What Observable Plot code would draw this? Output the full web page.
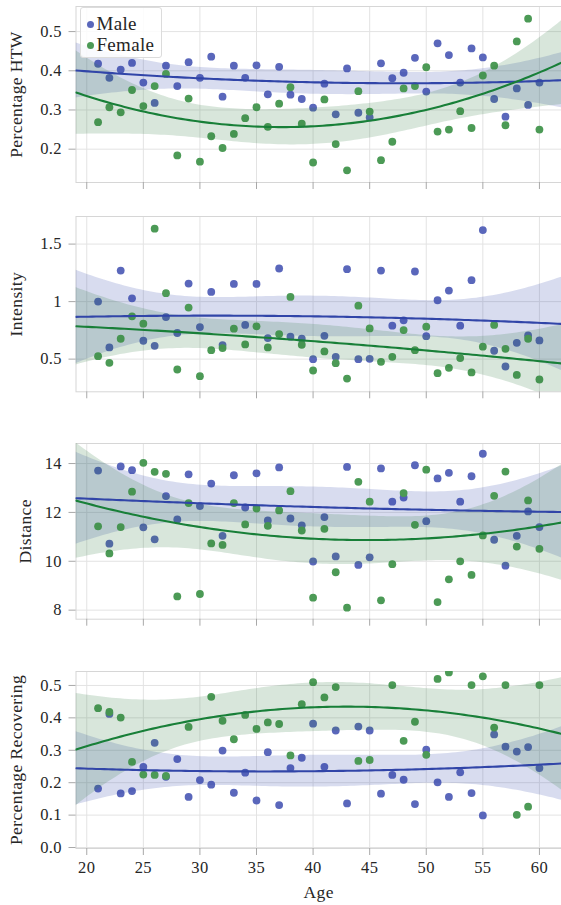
<!DOCTYPE html>
<html>
<head>
<meta charset="utf-8">
<script src="https://cdn.jsdelivr.net/npm/d3@7"></script>
<script src="https://cdn.jsdelivr.net/npm/@observablehq/plot@0.6"></script>
<style>
  html, body { margin: 0; padding: 0; background: #fff; }
  #wrap { position: relative; width: 561px; height: 905px; overflow: hidden; font-family: "Liberation Serif", serif; }
  #wrap svg { position: absolute; left: 0; overflow: visible; }
  .legend { position: absolute; left: 80px; top: 7px; width: 82px; height: 51px; border: 1px solid #dcdcdc; border-radius: 3px; background: rgba(255,255,255,0.85); box-sizing: border-box; font-family: "Liberation Serif", serif; font-size: 19px; letter-spacing: 0.3px; color: #262626; }
  .legend .item { position: absolute; left: 5.5px; height: 22px; line-height: 22px; white-space: nowrap; }
  .legend .sw { display: inline-block; width: 7px; height: 7px; border-radius: 50%; margin-right: 3px; vertical-align: 2px; }
</style>
</head>
<body>
<div id="wrap"></div>
<script>
// ---------------- data ----------------
const ages = [21,22,23,24,25,26,27,28,29,30,31,32,33,34,35,36,37,38,39,40,41,42,43,44,45,46,47,48,49,50,51,52,53,54,55,56,57,58,59,60];

const htwMale   = [0.418,0.382,0.403,0.420,0.370,0.318,0.413,0.361,0.422,0.382,0.436,0.334,0.413,0.382,0.414,0.340,0.410,0.339,0.328,0.306,0.367,0.289,0.406,0.293,0.281,0.419,0.381,0.395,0.433,0.347,0.470,0.440,0.370,0.457,0.434,0.328,0.283,0.355,0.313,0.370];
const htwFemale = [0.269,0.307,0.294,0.351,0.310,0.361,0.392,0.184,0.329,0.168,0.233,0.203,0.239,0.279,0.307,0.257,0.316,0.358,0.265,0.166,0.327,0.213,0.146,0.348,0.296,0.172,0.219,0.355,0.361,0.409,0.245,0.250,0.297,0.254,0.388,0.413,0.261,0.475,0.533,0.250];

const intMale   = [1.000,0.602,1.270,1.029,0.660,0.616,0.866,0.727,1.157,0.779,1.084,0.622,1.154,0.797,1.154,0.683,1.288,0.695,0.677,0.500,0.703,0.520,1.282,0.500,0.503,1.270,0.791,0.837,1.262,0.700,1.012,1.096,0.791,1.186,1.622,0.573,0.436,0.642,0.706,0.663];
const intFemale = [0.526,0.468,0.677,0.872,0.808,1.634,1.073,0.410,0.948,0.352,0.578,0.596,0.765,0.628,0.785,0.602,0.718,1.041,0.625,0.401,0.567,0.465,0.331,0.965,0.767,0.477,0.520,0.753,0.578,0.782,0.378,0.424,0.509,0.384,0.608,0.797,0.590,0.363,0.677,0.323];

const distMale   = [13.71,10.72,13.88,13.73,11.39,10.90,12.67,11.71,13.56,12.26,13.18,11.04,13.52,12.20,13.60,11.67,13.84,11.75,11.47,9.99,11.81,10.20,13.86,9.85,10.16,13.80,12.44,12.61,13.93,11.64,13.39,13.62,12.44,13.48,14.40,10.88,9.82,11.04,12.04,11.40];
const distFemale = [11.43,10.32,11.40,12.85,14.03,13.66,13.58,8.56,12.38,8.66,10.73,10.67,12.38,11.51,12.16,11.45,12.08,12.87,11.26,8.51,11.33,9.55,8.10,13.25,12.44,8.40,9.88,12.79,11.49,13.75,8.33,9.26,10.00,9.44,11.06,12.68,13.67,10.60,12.49,10.51];

const recMale   = [0.182,0.412,0.167,0.174,0.249,0.323,0.218,0.273,0.156,0.208,0.194,0.299,0.169,0.231,0.145,0.294,0.131,0.245,0.277,0.382,0.249,0.361,0.136,0.373,0.361,0.166,0.224,0.209,0.134,0.302,0.201,0.156,0.232,0.168,0.099,0.349,0.311,0.296,0.310,0.245];
// ages 28, 30, 43, 46, 53: no green dot is visible; estimated as lying above the top of the axis (clipped)
const recFemale = [0.430,0.418,0.401,0.264,0.225,0.224,0.221,0.58,0.372,0.58,0.465,0.391,0.334,0.409,0.366,0.386,0.381,0.284,0.442,0.510,0.463,0.495,0.58,0.267,0.270,0.58,0.501,0.329,0.388,0.286,0.520,0.540,0.56,0.501,0.528,0.370,0.501,0.101,0.126,0.501];

const ageTicks = [20,25,30,35,40,45,50,55,60];
const groups = ["Male", "Female"];

// ---------------- styling ----------------
const colMale = "#3145a8", colFemale = "#187f38";
const dotMale = "#5a67bb", dotFemale = "#4c9a56";
const gridCol = "#e3e3e3", frameCol = "#d6d6d6", tickCol = "#a8a8a8", textCol = "#262626";
const FONT = "Liberation Serif";
const X0 = 75.5, W = 561;
const xDomain = [19.05, 61.95];
const T_CRIT = 2.5;

const panels = [
  {label: "Percentage HTW", male: htwMale, female: htwFemale, top: 5.7, bottom: 181.7, domain: [0.115, 0.564],
   ticks: [0.2,0.3,0.4,0.5], tickLabels: ["0.2","0.3","0.4","0.5"], labelX: 16, last: false},
  {label: "Intensity", male: intMale, female: intFemale, top: 215.7, bottom: 391, domain: [0.216, 1.74],
   ticks: [0.5,1,1.5], tickLabels: ["0.5","1","1.5"], labelX: 16, last: false},
  {label: "Distance", male: distMale, female: distFemale, top: 443.3, bottom: 619, domain: [7.63, 14.82],
   ticks: [8,10,12,14], tickLabels: ["8","10","12","14"], labelX: 25, last: false},
  {label: "Percentage Recovering", male: recMale, female: recFemale, top: 671, bottom: 848, domain: [-0.003, 0.543],
   ticks: [0,0.1,0.2,0.3,0.4,0.5], tickLabels: ["0.0","0.1","0.2","0.3","0.4","0.5"], labelX: 16, last: true}
];

function quadFit(xsRaw, ysRaw) {
  const xs = [], ys = [];
  xsRaw.forEach((x, i) => { if (ysRaw[i] != null) { xs.push(x - 40); ys.push(ysRaw[i]); } });
  const n = xs.length;
  const S = [0,0,0,0,0], B = [0,0,0];
  xs.forEach((x, i) => {
    let p = 1;
    for (let k = 0; k < 5; k++) { S[k] += p; p *= x; }
    B[0] += ys[i]; B[1] += ys[i] * x; B[2] += ys[i] * x * x;
  });
  const M = [[S[0],S[1],S[2]],[S[1],S[2],S[3]],[S[2],S[3],S[4]]];
  const det = M[0][0]*(M[1][1]*M[2][2]-M[1][2]*M[2][1]) - M[0][1]*(M[1][0]*M[2][2]-M[1][2]*M[2][0]) + M[0][2]*(M[1][0]*M[2][1]-M[1][1]*M[2][0]);
  const inv = [
    [(M[1][1]*M[2][2]-M[1][2]*M[2][1])/det, (M[0][2]*M[2][1]-M[0][1]*M[2][2])/det, (M[0][1]*M[1][2]-M[0][2]*M[1][1])/det],
    [(M[1][2]*M[2][0]-M[1][0]*M[2][2])/det, (M[0][0]*M[2][2]-M[0][2]*M[2][0])/det, (M[0][2]*M[1][0]-M[0][0]*M[1][2])/det],
    [(M[1][0]*M[2][1]-M[1][1]*M[2][0])/det, (M[0][1]*M[2][0]-M[0][0]*M[2][1])/det, (M[0][0]*M[1][1]-M[0][1]*M[1][0])/det]
  ];
  const beta = inv.map(r => r[0]*B[0] + r[1]*B[1] + r[2]*B[2]);
  let rss = 0;
  xs.forEach((x, i) => { const e = ys[i] - (beta[0] + beta[1]*x + beta[2]*x*x); rss += e*e; });
  const s2 = rss / (n - 3);
  const out = [];
  const steps = 120;
  for (let k = 0; k <= steps; k++) {
    const age = xDomain[0] + (xDomain[1] - xDomain[0]) * k / steps;
    const g = age - 40, v = [1, g, g*g];
    const yhat = beta[0] + beta[1]*g + beta[2]*g*g;
    let q = 0;
    for (let a = 0; a < 3; a++) for (let b = 0; b < 3; b++) q += v[a]*inv[a][b]*v[b];
    const se = Math.sqrt(s2 * q);
    out.push({age, y: yhat, lo: yhat - T_CRIT*se, hi: yhat + T_CRIT*se});
  }
  return out;
}

const wrap = document.getElementById("wrap");

panels.forEach((p) => {
  const mTop = 6, mBottom = p.last ? 57 : 12;
  const innerH = p.bottom - p.top;
  const height = innerH + mTop + mBottom;
  const fitM = quadFit(ages, p.male);
  const fitF = quadFit(ages, p.female);
  const ptsM = ages.map((a, i) => ({age: a, v: p.male[i], g: groups[0]})).filter(d => d.v != null);
  const ptsF = ages.map((a, i) => ({age: a, v: p.female[i], g: groups[1]})).filter(d => d.v != null);

  const marks = [
    Plot.gridY(p.ticks, {stroke: gridCol, strokeOpacity: 1, strokeWidth: 1}),
    Plot.gridX(ageTicks, {stroke: gridCol, strokeOpacity: 1, strokeWidth: 1}),
    Plot.frame({stroke: frameCol, strokeWidth: 1}),
    Plot.axisY(p.ticks, {tickSize: 7, tickPadding: 7, stroke: tickCol, fill: textCol,
      tickFormat: (d) => p.tickLabels[p.ticks.indexOf(d)], label: null, fontSize: 16.5, fontFamily: FONT}),
    Plot.axisX(ageTicks, {tickSize: 7, tickPadding: 6, stroke: tickCol, fill: textCol,
      tickFormat: p.last ? (d) => String(d) : () => "", label: null, fontSize: 16.5, fontFamily: FONT}),
    Plot.dot(ptsM, {x: "age", y: "v", r: 3.9, fill: dotMale, stroke: "none", clip: true}),
    Plot.areaY(fitM, {x: "age", y1: "lo", y2: "hi", fill: colMale, fillOpacity: 0.19, clip: true}),
    Plot.dot(ptsF, {x: "age", y: "v", r: 3.9, fill: dotFemale, stroke: "none", clip: true}),
    Plot.areaY(fitF, {x: "age", y1: "lo", y2: "hi", fill: "#2f7a40", fillOpacity: 0.19, clip: true}),
    Plot.line(fitM, {x: "age", y: "y", stroke: colMale, strokeWidth: 2.1, clip: true}),
    Plot.line(fitF, {x: "age", y: "y", stroke: colFemale, strokeWidth: 2.1, clip: true}),
    Plot.text([p.label], {frameAnchor: "left", textAnchor: "middle", lineAnchor: "middle", dx: -(X0 - p.labelX), rotate: -90,
      fontSize: 17.5, fill: textCol, fontFamily: FONT})
  ];
  if (p.last) {
    marks.push(Plot.text(["Age"], {frameAnchor: "bottom", lineAnchor: "middle", dy: 44, fontSize: 17.5, fill: textCol, fontFamily: FONT}));
  }

  const svg = Plot.plot({
    width: W,
    height: height,
    marginLeft: X0,
    marginRight: 0,
    marginTop: mTop,
    marginBottom: mBottom,
    x: {domain: xDomain},
    y: {domain: p.domain},
    style: {fontFamily: FONT, fontSize: "16.5px", color: textCol, background: "transparent", overflow: "visible", letterSpacing: "0.4px"},
    marks
  });
  svg.style.top = (p.top - mTop) + "px";
  wrap.appendChild(svg);
});

const legend = document.createElement("div");
legend.className = "legend";
legend.innerHTML =
  `<div class="item" style="top:4.5px"><span class="sw" style="background:${dotMale}"></span>${groups[0]}</div>` +
  `<div class="item" style="top:26px"><span class="sw" style="background:${dotFemale}"></span>${groups[1]}</div>`;
wrap.appendChild(legend);
</script>
</body>
</html>
